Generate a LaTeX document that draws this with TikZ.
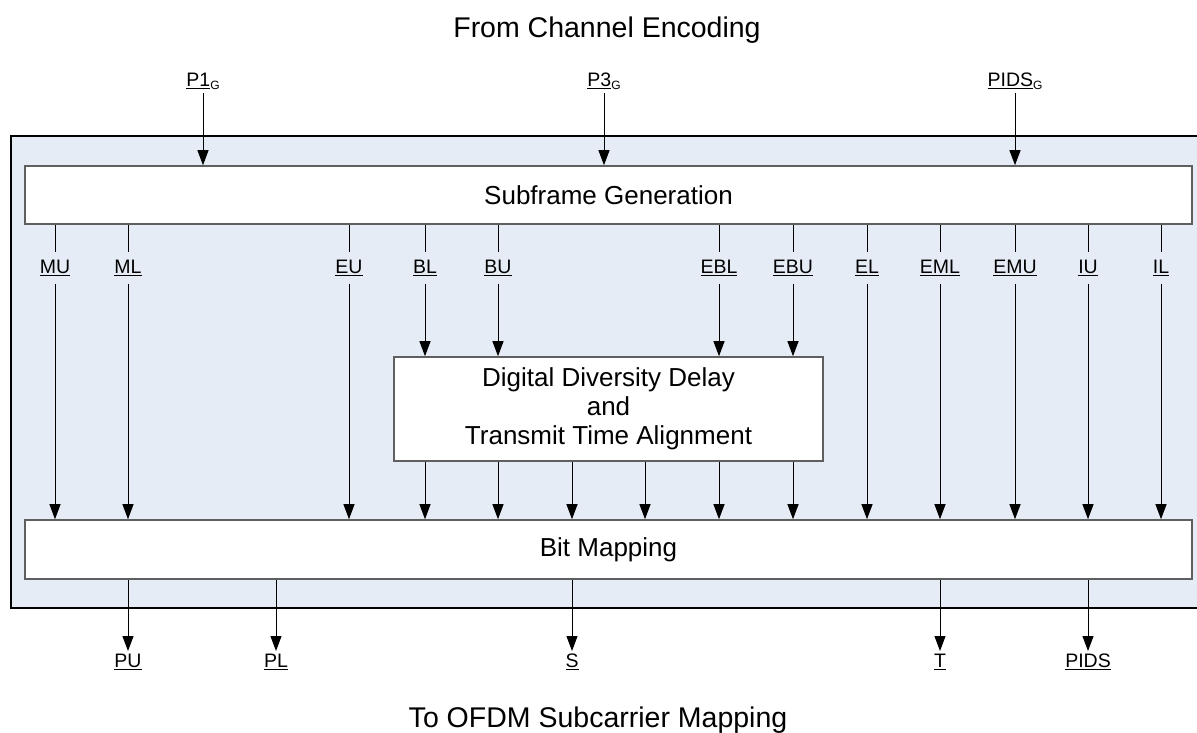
\documentclass[tikz,border=0pt]{standalone}
\usepackage{fontspec}
\setmainfont{Liberation Sans}
\usetikzlibrary{arrows.meta,calc}
\definecolor{bgblue}{RGB}{230,236,246}
\definecolor{boxgray}{RGB}{95,95,95}
\newcommand\subG{\raisebox{-0.3ex}{\fontsize{12}{12}\selectfont G}}
\begin{document}
\begin{tikzpicture}[x=1pt,y=-1pt,
  arr/.style={draw=black, line width=1pt, -{Triangle[length=15pt,width=11pt]}},
  ln/.style={draw=black, line width=1pt},
  blk/.style={draw=boxgray, line width=1.6pt, fill=white, inner sep=0pt, font=\fontsize{26}{29}\selectfont, align=center},
  lbl/.style={inner sep=0pt, minimum height=31pt, font=\fontsize{19.5}{22}\selectfont},
  io/.style={inner sep=3pt, font=\fontsize{19.5}{22}\selectfont},
  ttl/.style={font=\fontsize{28.5}{32}\selectfont, anchor=base}]
\useasboundingbox (0,0) rectangle (1197,732);
% outer frame
\fill[bgblue] (11,136) rectangle (1215,608);
\draw[line width=1.2pt] (1215,136) -- (11,136) -- (11,608) -- (1215,608);

% titles
\node[ttl] (from) at (607,37) {From Channel Encoding};
\node[ttl] (to) at (598,727) {To OFDM Subcarrier Mapping};

% blocks
\node[blk, minimum width=1167pt, minimum height=58pt] (sg) at (608.5,195) {Subframe Generation};
\node[blk, minimum width=1167pt, minimum height=59pt] (bm) at (608.5,549.5) {Bit Mapping};
\node[blk, minimum width=429pt, minimum height=104pt] (ddd) at (608.5,409) {Digital Diversity Delay\\and\\Transmit Time Alignment};

% inputs
\node[io, anchor=south] (p1) at (203,93) {\underline{P1}\subG};
\node[io, anchor=south] (p3) at (604,93) {\underline{P3}\subG};
\node[io, anchor=south] (pids) at (1015,93) {\underline{PIDS}\subG};
\foreach \n in {p1,p3,pids} \draw[arr] (\n.south) -- (sg.north -| \n);

% middle labels
\node[lbl] (mu)  at (55,268)   {\underline{MU}};
\node[lbl] (ml)  at (128,268)  {\underline{ML}};
\node[lbl] (eu)  at (349,268)  {\underline{EU}};
\node[lbl] (bl)  at (425,268)  {\underline{BL}};
\node[lbl] (bu)  at (498,268)  {\underline{BU}};
\node[lbl] (ebl) at (719,268)  {\underline{EBL}};
\node[lbl] (ebu) at (793,268)  {\underline{EBU}};
\node[lbl] (el)  at (867,268)  {\underline{EL}};
\node[lbl] (eml) at (940,268)  {\underline{EML}};
\node[lbl] (emu) at (1015,268) {\underline{EMU}};
\node[lbl] (iu)  at (1088,268) {\underline{IU}};
\node[lbl] (il)  at (1161,268) {\underline{IL}};

\foreach \n in {mu,ml,eu,bl,bu,ebl,ebu,el,eml,emu,iu,il}
  \draw[ln] (sg.south -| \n) -- (\n.north);
\foreach \n in {mu,ml,eu,el,eml,emu,iu,il}
  \draw[arr] (\n.south) -- (bm.north -| \n);
\foreach \n in {bl,bu,ebl,ebu}
  \draw[arr] (\n.south) -- (ddd.north -| \n);

% DDD outputs
\coordinate (c3) at (572,0);
\coordinate (c4) at (645,0);
\foreach \n in {bl,bu,c3,c4,ebl,ebu}
  \draw[arr] (ddd.south -| \n) -- (bm.north -| \n);

% outputs
\node[io, anchor=north] (pu)   at (128,651)  {\underline{PU}};
\node[io, anchor=north] (pl)   at (276,651)  {\underline{PL}};
\node[io, anchor=north] (s)    at (572,651)  {\underline{S}};
\node[io, anchor=north] (t)    at (940,651)  {\underline{T}};
\node[io, anchor=north] (pidso) at (1088,651) {\underline{PIDS}};
\foreach \n in {pu,pl,s,t,pidso} \draw[arr] (bm.south -| \n) -- (\n.north);
\end{tikzpicture}
\end{document}
